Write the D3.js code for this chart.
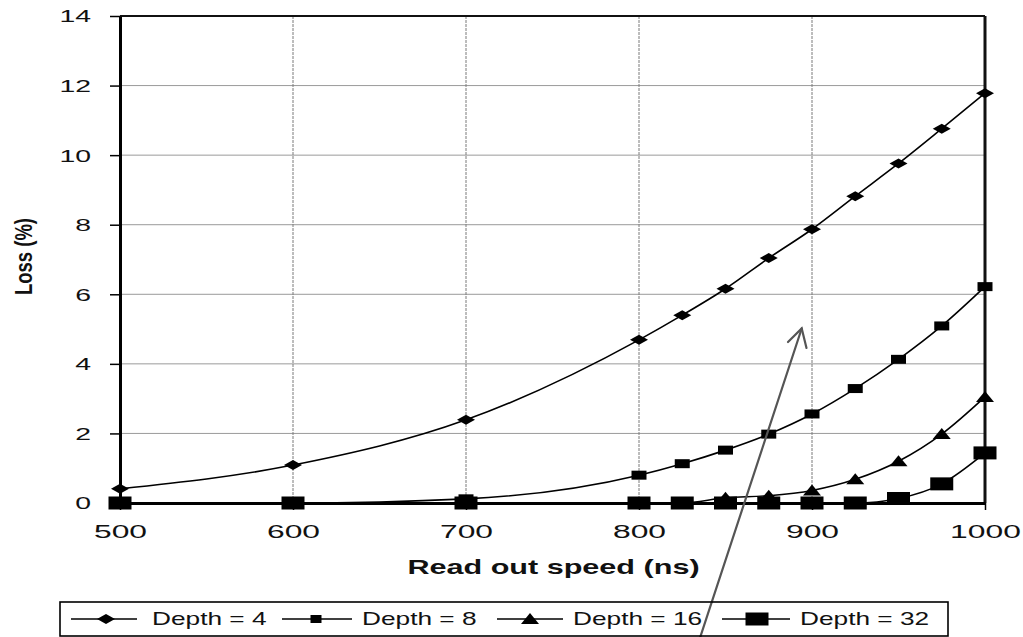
<!DOCTYPE html>
<html>
<head>
<meta charset="utf-8">
<script src="https://cdn.jsdelivr.net/npm/d3@7/dist/d3.min.js"></script>
<style>
  html, body { margin: 0; padding: 0; background: #fff; }
  svg { display: block; font-family: "Liberation Sans", Arial, sans-serif; }
</style>
</head>
<body>
<svg id="chart" width="1023" height="637"></svg>
<script>
// ---- data ----
const xValues = [500, 600, 700, 800, 825, 850, 875, 900, 925, 950, 975, 1000];
const depth4  = [0.41, 1.09, 2.39, 4.69, 5.40, 6.16, 7.04, 7.87, 8.82, 9.76, 10.76, 11.78];
const depth8  = [0, 0, 0.12, 0.80, 1.13, 1.52, 1.98, 2.56, 3.29, 4.13, 5.09, 6.22];
const depth16 = [0, 0, 0, 0, 0, 0.15, 0.21, 0.36, 0.68, 1.20, 1.98, 3.05];
const depth32 = [0, 0, 0, 0, 0, 0, 0, 0, 0, 0.13, 0.55, 1.44];
const seriesNames = ["Depth = 4", "Depth = 8", "Depth = 16", "Depth = 32"];
const markerTypes = ["diamond", "square", "triangle", "bigsquare"];
const xTicks = [500, 600, 700, 800, 900, 1000];
const yTicks = [0, 2, 4, 6, 8, 10, 12, 14];
const xTitle = "Read out speed (ns)";
const yTitle = "Loss (%)";

const seriesValues = [depth4, depth8, depth16, depth32];

(function () {
// ---- layout ----
const svg = d3.select("#chart");
const pL = 120, pR = 985, pT = 16, pB = 503;
const x = d3.scaleLinear().domain([500, 1000]).range([pL, pR]);
const y = d3.scaleLinear().domain([0, 14]).range([pB, pT]);

// grid
const grid = svg.append("g");
grid.selectAll("line.h").data(yTicks.filter(d => d > 0 && d < 14)).join("line")
  .attr("x1", pL).attr("x2", pR)
  .attr("y1", d => y(d)).attr("y2", d => y(d))
  .attr("stroke", "#9a9a9a").attr("stroke-width", 1);
grid.selectAll("line.v").data(xTicks.filter(d => d > 500 && d < 1000)).join("line")
  .attr("y1", pT).attr("y2", pB)
  .attr("x1", d => x(d)).attr("x2", d => x(d))
  .attr("stroke", "#7a7a7a").attr("stroke-width", 1).attr("stroke-dasharray", "3,1");

// border top/right
svg.append("line").attr("x1", pL).attr("x2", pR).attr("y1", pT).attr("y2", pT)
  .attr("stroke", "#111").attr("stroke-width", 2);
svg.append("line").attr("x1", pR).attr("x2", pR).attr("y1", pT).attr("y2", pB)
  .attr("stroke", "#111").attr("stroke-width", 3);

// axes
const sxTick = 1.72;
const xAxis = svg.append("g").attr("transform", `translate(0,${pB})`)
  .call(d3.axisBottom(x).tickValues(xTicks).tickSize(7).tickSizeOuter(0).tickFormat(d3.format("d")));
xAxis.attr("font-family", null).attr("font-size", null);
xAxis.select(".domain").attr("stroke", "#000").attr("stroke-width", 3);
xAxis.selectAll(".tick line").attr("stroke", "#000").attr("stroke-width", 1.5);
xAxis.selectAll(".tick text")
  .attr("y", 35).attr("dy", 0).attr("x", 0)
  .attr("transform", `scale(${sxTick},1)`)
  .style("font-size", "18.5px").attr("fill", "#111");

const yAxis = svg.append("g").attr("transform", `translate(${pL},0)`)
  .call(d3.axisLeft(y).tickValues(yTicks).tickSize(10).tickSizeOuter(0));
yAxis.attr("font-family", null).attr("font-size", null);
yAxis.select(".domain").attr("stroke", "#000").attr("stroke-width", 3);
yAxis.selectAll(".tick line").attr("stroke", "#000").attr("stroke-width", 1.5);
yAxis.selectAll(".tick text")
  .attr("x", -29 / sxTick).attr("dy", "0.36em")
  .attr("transform", `scale(${sxTick},1)`)
  .style("font-size", "16.5px").attr("fill", "#111");

// titles
svg.append("text").text(xTitle)
  .attr("transform", `translate(${(pL + pR) / 2 + 1},574) scale(1.53,1)`)
  .attr("text-anchor", "middle").attr("font-weight", "bold").style("font-size", "20px").attr("fill", "#111");
svg.append("text").text(yTitle)
  .attr("transform", `translate(32,256.5) scale(1.28,1) rotate(-90)`)
  .attr("text-anchor", "middle").attr("font-weight", "bold").style("font-size", "18.5px").attr("fill", "#111");

// marker path generator (w x h)
function markerPath(type) {
  switch (type) {
    case "diamond": return "M0,-5 L9,0 L0,5 L-9,0 Z";
    case "square": return "M-7.5,-4.5 H7.5 V4.5 H-7.5 Z";
    case "triangle": return "M0,-6 L9,5 L-9,5 Z";
    case "bigsquare": return "M-11.5,-6.5 H11.5 V6.5 H-11.5 Z";
  }
}

// series
const line = d3.line().x(d => x(d[0])).y(d => y(d[1])).curve(d3.curveMonotoneX);
seriesValues.forEach((vals, i) => {
  const pts = xValues.map((xv, j) => [xv, vals[j]]);
  const g = svg.append("g");
  g.append("path").attr("d", line(pts)).attr("fill", "none").attr("stroke", "#000").attr("stroke-width", 1.6);
  g.selectAll("path.m").data(pts).join("path").attr("class", "m")
    .attr("d", markerPath(markerTypes[i]))
    .attr("transform", d => `translate(${x(d[0])},${y(d[1])})`)
    .attr("fill", "#000");
});

// arrow
const arrow = svg.append("g").attr("stroke", "#555").attr("stroke-width", 2.2).attr("fill", "none").attr("stroke-linecap", "round");
arrow.append("line").attr("x1", 696).attr("y1", 650).attr("x2", 801.7).attr("y2", 328.5);
arrow.append("polyline").attr("points", "788,342 801.7,328.5 806.5,348");

// legend
const leg = svg.append("g");
leg.append("rect").attr("x", 60).attr("y", 602).attr("width", 888).attr("height", 34)
  .attr("fill", "none").attr("stroke", "#000").attr("stroke-width", 1.6);
const legendItems = [
  { lx1: 71, lx2: 137, mx: 106, tx: 152 },
  { lx1: 282, lx2: 352, mx: 316, tx: 362 },
  { lx1: 497, lx2: 563, mx: 530, tx: 573 },
  { lx1: 722, lx2: 790, mx: 757, tx: 800 }
];
legendItems.forEach((it, i) => {
  leg.append("line").attr("x1", it.lx1).attr("x2", it.lx2).attr("y1", 619).attr("y2", 619)
    .attr("stroke", "#000").attr("stroke-width", 1.6);
  leg.append("path").attr("d", i === 1 ? "M-5.5,-4 H5.5 V4 H-5.5 Z" : markerPath(markerTypes[i]))
    .attr("transform", `translate(${it.mx},619)`).attr("fill", "#000");
  leg.append("text").text(seriesNames[i])
    .attr("transform", `translate(${it.tx},624.5) scale(1.5,1)`)
    .style("font-size", "17.5px").attr("fill", "#111");
});
})();
</script>
</body>
</html>
